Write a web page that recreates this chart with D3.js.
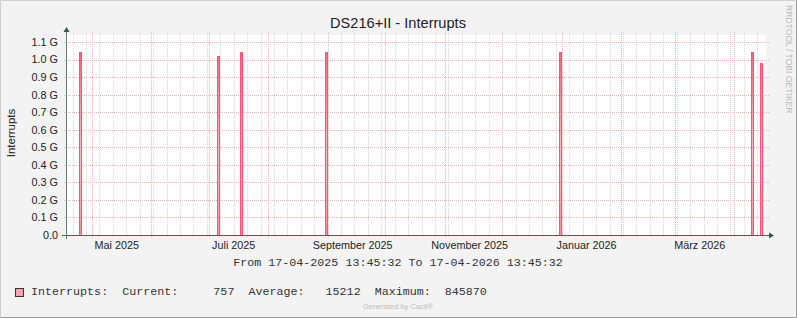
<!DOCTYPE html>
<html>
<head>
<meta charset="utf-8">
<script src="https://cdn.jsdelivr.net/npm/d3@7"></script>
<style>
  body { margin: 0; background: #f3f3f3; }
  svg text { font-family: "Liberation Sans", Arial, sans-serif; }
  .mono { font-family: "Courier New", "Liberation Mono", monospace !important; }
</style>
</head>
<body>
<div id="graphic"></div>
<script>
// time range of the graph
var rangeStart = "2025-04-17T13:45:32Z",
    rangeEnd = "2026-04-17T13:45:32Z";

// spikes: start of the (1 day) sample and its value
var spikeDates = ["2025-04-24T04:00Z", "2025-07-05T06:00Z", "2025-07-17T03:00Z", "2025-08-30T21:00Z",
                  "2025-12-30T21:00Z", "2026-04-09T21:00Z", "2026-04-14T16:00Z"];
var spikeValues = [1.04e9, 1.02e9, 1.04e9, 1.04e9, 1.04e9, 1.04e9, 0.98e9];

var yTicks = [0, 0.1e9, 0.2e9, 0.3e9, 0.4e9, 0.5e9, 0.6e9, 0.7e9, 0.8e9, 0.9e9, 1.0e9, 1.1e9];
var yTickLabels = ["0.0", "0.1 G", "0.2 G", "0.3 G", "0.4 G", "0.5 G", "0.6 G", "0.7 G", "0.8 G", "0.9 G", "1.0 G", "1.1 G"];
var monthLabels = ["Mai 2025", "Juli 2025", "September 2025", "November 2025", "Januar 2026", "März 2026"];
var labelMonths = ["2025-05-01", "2025-07-01", "2025-09-01", "2025-11-01", "2026-01-01", "2026-03-01"];

var legendText = "Interrupts:  Current:     757  Average:   15212  Maximum:  845870";
var rangeText = "From 17-04-2025 13:45:32 To 17-04-2026 13:45:32";

var W = 797, H = 318;
var plot = { left: 66, right: 766, top: 35, bottom: 235 };
var DAY = 864e5;

var x = d3.scaleUtc()
    .domain([new Date(rangeStart), new Date(rangeEnd)])
    .range([plot.left, plot.right]);
var y = d3.scaleLinear()
    .domain([0, 1.14e9])
    .range([plot.bottom, plot.top]);

// snap to pixel centres so 1px lines stay sharp
function px(v) { return Math.round(v) + 0.5; }

var svg = d3.select("#graphic").append("svg")
    .attr("width", W)
    .attr("height", H);

// background + border
svg.append("rect").attr("width", W).attr("height", H).attr("fill", "#f3f3f3");
svg.append("path").attr("d", "M0.5," + (H - 0.5) + "V0.5H" + (W - 0.5))
    .attr("fill", "none").attr("stroke", "#cfcfcf");
svg.append("path").attr("d", "M0.5," + (H - 0.5) + "H" + (W - 0.5) + "V0.5")
    .attr("fill", "none").attr("stroke", "#9a9a9a");

// plot canvas
svg.append("rect")
    .attr("x", plot.left).attr("y", plot.top)
    .attr("width", plot.right - plot.left).attr("height", plot.bottom - plot.top)
    .attr("fill", "#ffffff");

var grid = svg.append("g").attr("shape-rendering", "crispEdges");

// weekly minor grid
var weeks = d3.utcMonday.range(x.domain()[0], x.domain()[1]);
var months = d3.utcMonth.range(x.domain()[0], x.domain()[1]);
grid.selectAll(null)
    .data(weeks.filter(function(d) { return d.getUTCDate() != 1; }))
    .enter()
    .append("line")
    .attr("x1", function(d) { return px(x(d)); })
    .attr("x2", function(d) { return px(x(d)); })
    .attr("y1", plot.top - 3).attr("y2", plot.bottom + 2)
    .attr("stroke", "#dadada")
    .attr("stroke-dasharray", "1,1");

// horizontal major grid
grid.selectAll(null)
    .data(yTicks)
    .enter()
    .append("line")
    .attr("x1", plot.left - 2).attr("x2", plot.right + 3)
    .attr("y1", function(d) { return px(y(d)); })
    .attr("y2", function(d) { return px(y(d)); })
    .attr("stroke", "#ecb4b4")
    .attr("stroke-dasharray", "1,1");

// monthly major grid
grid.selectAll(null)
    .data(months)
    .enter()
    .append("line")
    .attr("x1", function(d) { return px(x(d)); })
    .attr("x2", function(d) { return px(x(d)); })
    .attr("y1", plot.top - 3).attr("y2", plot.bottom + 3)
    .attr("stroke", "#ecb4b4")
    .attr("stroke-dasharray", "1,1");

// gradient fill for the area
var defs = svg.append("defs");
var grad = defs.append("linearGradient")
    .attr("id", "spikeFill")
    .attr("gradientUnits", "userSpaceOnUse")
    .attr("x1", 0).attr("x2", 0)
    .attr("y1", y(1.04e9)).attr("y2", y(0));
grad.append("stop").attr("offset", "0%").attr("stop-color", "#ff6184");
grad.append("stop").attr("offset", "55%").attr("stop-color", "#ffb8c6");
grad.append("stop").attr("offset", "100%").attr("stop-color", "#ff8aa2");

var spikes = spikeDates.map(function(d, i) {
    var t0 = new Date(d);
    return [{ t: t0, v: spikeValues[i] }, { t: new Date(+t0 + DAY), v: spikeValues[i] }];
});

var area = d3.area()
    .x(function(d) { return px(x(d.t)); })
    .y0(y(0))
    .y1(function(d) { return y(d.v); });
var line = d3.line()
    .x(function(d) { return px(x(d.t)); })
    .y(function(d) { return y(d.v); });

svg.selectAll(null)
    .data(spikes)
    .enter()
    .append("path")
    .attr("d", area)
    .attr("fill", "url(#spikeFill)");

// outline (rises and falls from the baseline)
svg.selectAll(null)
    .data(spikes)
    .enter()
    .append("path")
    .attr("d", function(d) {
        return line([{ t: d[0].t, v: 0 }, d[0], d[1], { t: d[1].t, v: 0 }]);
    })
    .attr("fill", "none")
    .attr("stroke", "#ff5478")
    .attr("stroke-width", 1)
    .attr("shape-rendering", "crispEdges");

// axes
svg.append("line")
    .attr("x1", plot.left - 4).attr("x2", plot.right + 4)
    .attr("y1", plot.bottom + 0.5).attr("y2", plot.bottom + 0.5)
    .attr("stroke", "#8a4848").attr("shape-rendering", "crispEdges");
svg.append("line")
    .attr("x1", plot.left + 0.5).attr("x2", plot.left + 0.5)
    .attr("y1", plot.top - 4).attr("y2", plot.bottom + 4)
    .attr("stroke", "#5f7c72").attr("shape-rendering", "crispEdges");
svg.append("path")
    .attr("d", "M" + (plot.left - 2.5) + "," + (plot.top - 3) + "L" + (plot.left + 0.5) + "," + (plot.top - 8) + "L" + (plot.left + 3.5) + "," + (plot.top - 3) + "Z")
    .attr("fill", "#2f5a4e");
svg.append("path")
    .attr("d", "M" + (plot.right + 3) + "," + (plot.bottom - 2.5) + "L" + (plot.right + 8) + "," + (plot.bottom + 0.5) + "L" + (plot.right + 3) + "," + (plot.bottom + 3.5) + "Z")
    .attr("fill", "#2f5a4e");

// y tick labels
svg.selectAll(null)
    .data(yTicks)
    .enter()
    .append("text")
    .attr("x", plot.left - 8)
    .attr("y", function(d) { return y(d); })
    .attr("dy", "0.36em")
    .attr("text-anchor", "end")
    .attr("font-size", "10.8px")
    .attr("fill", "#222")
    .text(function(d, i) { return yTickLabels[i]; });

// x labels, centred a little after the month start like rrdtool does
svg.selectAll(null)
    .data(labelMonths)
    .enter()
    .append("text")
    .attr("x", function(d) { return x(new Date(d + "T00:00Z")) + 25; })
    .attr("y", plot.bottom + 14)
    .attr("text-anchor", "middle")
    .attr("font-size", "10.8px")
    .attr("fill", "#222")
    .text(function(d, i) { return monthLabels[i]; });

// title
svg.append("text")
    .attr("x", 398).attr("y", 28)
    .attr("text-anchor", "middle")
    .attr("font-size", "14.6px")
    .attr("fill", "#222")
    .text("DS216+II - Interrupts");

// y axis title
svg.append("text")
    .attr("transform", "translate(14.5,133) rotate(-90)")
    .attr("text-anchor", "middle")
    .attr("font-size", "11.5px")
    .attr("fill", "#222")
    .text("Interrupts");

// watermark
svg.append("text")
    .attr("transform", "translate(785.5,5) rotate(90)")
    .attr("font-size", "8.6px")
    .attr("fill", "#b8b8b8")
    .text("RRDTOOL / TOBI OETIKER");

svg.append("text")
    .attr("class", "mono")
    .attr("x", 398).attr("y", 266)
    .attr("text-anchor", "middle")
    .attr("font-size", "11.7px")
    .attr("fill", "#333")
    .text(rangeText);

// legend
svg.append("rect")
    .attr("x", 15.5).attr("y", 288.5)
    .attr("width", 8).attr("height", 8)
    .attr("fill", "#ffa1b2")
    .attr("stroke", "#333");
svg.append("text")
    .attr("class", "mono")
    .attr("x", 31).attr("y", 295)
    .attr("font-size", "11.7px")
    .attr("fill", "#333")
    .attr("xml:space", "preserve")
    .style("white-space", "pre")
    .text(legendText);

svg.append("text")
    .attr("x", 398).attr("y", 309)
    .attr("text-anchor", "middle")
    .attr("font-size", "7.5px")
    .attr("fill", "#bdbdbd")
    .text("Generated by Cacti®");
</script>
</body>
</html>
